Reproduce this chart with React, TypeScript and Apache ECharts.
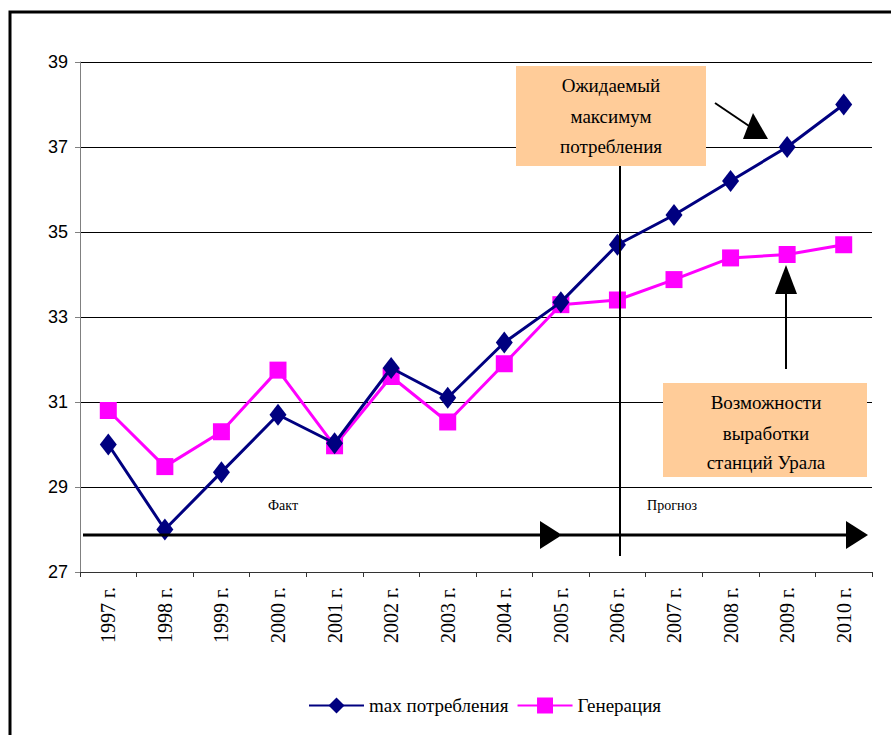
import React, { useEffect, useRef } from "react";
import * as echarts from "echarts";

const categories = [
  "1997 г.", "1998 г.", "1999 г.", "2000 г.", "2001 г.", "2002 г.", "2003 г.",
  "2004 г.", "2005 г.", "2006 г.", "2007 г.", "2008 г.", "2009 г.", "2010 г.",
];
const maxConsumption = [30.0, 28.0, 29.35, 30.7, 30.03, 31.8, 31.1, 32.4, 33.35, 34.7, 35.4, 36.2, 37.0, 38.0];
const generation = [30.8, 29.48, 30.3, 31.75, 29.97, 31.6, 30.53, 31.9, 33.29, 33.4, 33.88, 34.39, 34.47, 34.7];
const seriesNames = ["max потребления", "Генерация"];
const box1Lines = ["Ожидаемый", "максимум", "потребления"];
const box2Lines = ["Возможности", "выработки", "станций Урала"];
const factLabel = "Факт";
const forecastLabel = "Прогноз";

const SERIF = "Liberation Serif";
const SANS = "Liberation Sans";

export default function App() {
  const ref = useRef<HTMLDivElement>(null);
  useEffect(() => {
    if (!ref.current) return;
    const chart = echarts.init(ref.current, null, { renderer: "svg" });
    const txt = (t: string, x: number, y: number, size: number) => ({
      type: "text",
      z: 101,
      x,
      y,
      style: {
        text: t,
        fill: "#000",
        fontFamily: SERIF,
        fontSize: size,
        align: "center",
        verticalAlign: "middle",
      },
    });
    const boxText = (lines: string[], cx: number, ys: number[]) =>
      lines.map((t, i) => txt(t, cx, ys[i], 19));
    chart.setOption({
      animation: false,
      backgroundColor: "#fff",
      grid: { left: 80, top: 62, right: 19, bottom: 163 },
      legend: {
        left: 303,
        top: 691,
        itemWidth: 55,
        itemHeight: 20,
        itemGap: 8,
        textStyle: { fontFamily: SERIF, fontSize: 19, color: "#000" },
        data: seriesNames,
      },
      xAxis: {
        type: "category",
        data: categories,
        boundaryGap: true,
        axisLine: { lineStyle: { color: "#333", width: 1 } },
        axisTick: { show: true, interval: 0, length: 5, lineStyle: { color: "#333" } },
        axisLabel: {
          rotate: 90,
          interval: 0,
          margin: 15,
          fontFamily: SERIF,
          fontSize: 20,
          color: "#000",
        },
        splitLine: { show: false },
      },
      yAxis: {
        type: "value",
        min: 27,
        max: 39,
        interval: 2,
        axisLine: { show: true, lineStyle: { color: "#808080", width: 1 } },
        axisTick: { show: true, length: 5, lineStyle: { color: "#808080" } },
        axisLabel: { margin: 12, fontFamily: SANS, fontSize: 18, color: "#000" },
        splitLine: { show: true, lineStyle: { color: "#000", width: 1 } },
      },
      series: [
        {
          name: seriesNames[0],
          type: "line",
          data: maxConsumption,
          color: "#000080",
          lineStyle: { color: "#000080", width: 3 },
          itemStyle: { color: "#000080" },
          symbol: "diamond",
          symbolSize: [17, 22],
          z: 3,
        },
        {
          name: seriesNames[1],
          type: "line",
          data: generation,
          color: "#FF00FF",
          lineStyle: { color: "#FF00FF", width: 3 },
          itemStyle: { color: "#FF00FF" },
          symbol: "rect",
          symbolSize: 17,
          z: 2,
        },
      ],
      graphic: [
        {
          type: "rect",
          z: 90,
          shape: { x: 10, y: 12, width: 1000, height: 900 },
          style: { fill: "none", stroke: "#000", lineWidth: 3 },
        },
        // horizontal arrows
        { type: "line", z: 100, shape: { x1: 83, y1: 535, x2: 545, y2: 535 }, style: { stroke: "#000", lineWidth: 3 } },
        { type: "polygon", z: 100, shape: { points: [[540, 521], [562, 535], [540, 549]] }, style: { fill: "#000" } },
        { type: "line", z: 100, shape: { x1: 560, y1: 535, x2: 850, y2: 535 }, style: { stroke: "#000", lineWidth: 3 } },
        { type: "polygon", z: 100, shape: { points: [[846, 521], [868, 535], [846, 549]] }, style: { fill: "#000" } },
        // vertical divider
        { type: "line", z: 100, shape: { x1: 620, y1: 166, x2: 620, y2: 556 }, style: { stroke: "#000", lineWidth: 2 } },
        // box 1
        { type: "rect", z: 100, shape: { x: 516, y: 66, width: 190, height: 100 }, style: { fill: "#FFCC99" } },
        ...boxText(box1Lines, 611, [85, 116, 146]),
        // arrow 1
        { type: "line", z: 100, shape: { x1: 715, y1: 103, x2: 752, y2: 128 }, style: { stroke: "#000", lineWidth: 2 } },
        { type: "polygon", z: 100, shape: { points: [[743, 139], [768, 139], [753, 113]] }, style: { fill: "#000" } },
        // box 2
        { type: "rect", z: 100, shape: { x: 663, y: 383, width: 204, height: 94 }, style: { fill: "#FFCC99" } },
        ...boxText(box2Lines, 766, [402, 433, 462]),
        // arrow 2
        { type: "line", z: 100, shape: { x1: 786, y1: 369, x2: 786, y2: 290 }, style: { stroke: "#000", lineWidth: 2 } },
        { type: "polygon", z: 100, shape: { points: [[775, 294], [797, 294], [786, 265]] }, style: { fill: "#000" } },
        // labels
        txt(factLabel, 283, 505, 14),
        txt(forecastLabel, 672, 505, 14),
      ],
    });
    return () => chart.dispose();
  }, []);
  return (
    <div
      ref={ref}
      style={{ position: "fixed", left: 0, top: 0, width: 891, height: 735, background: "#fff" }}
    />
  );
}
